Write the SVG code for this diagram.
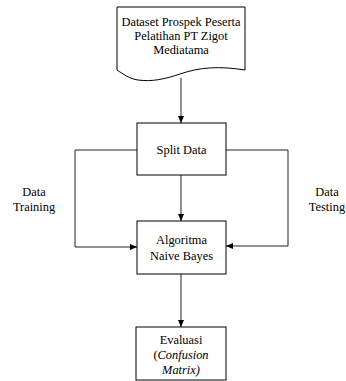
<svg xmlns="http://www.w3.org/2000/svg" width="346" height="381" viewBox="0 0 346 381">
<style>
.box{fill:#fff;stroke:#000;stroke-width:1}
.t{font-family:'Liberation Serif','Times New Roman',serif;font-size:12.4px;fill:#000;text-anchor:middle}
.c{fill:none;stroke:#222;stroke-width:1}
</style>
<defs>
<marker id="ah" markerWidth="7" markerHeight="6" refX="7" refY="3" orient="auto" markerUnits="userSpaceOnUse">
<path d="M0,0 L7,3 L0,6 Z" fill="#000"/>
</marker>
</defs>
<rect width="346" height="381" fill="#fff"/>
<g id="connectors">
<path class="c" d="M181,78 V123" marker-end="url(#ah)"/>
<path class="c" d="M181,175 V221" marker-end="url(#ah)"/>
<path class="c" d="M181,274 V327" marker-end="url(#ah)"/>
<path class="c" d="M137,150 H75 V247 H137" marker-end="url(#ah)"/>
<path class="c" d="M226,150 H288 V246 H226" marker-end="url(#ah)"/>
</g>
<g id="dataset">
<path class="box" d="M117,7 H245 V70 C220,66 200,67 180,74 C165,79 152,82 138,80 C130,79 123,74 117,70 Z"/>
<text class="t" x="181" y="26">Dataset Prospek Peserta</text>
<text class="t" x="181" y="40">Pelatihan PT Zigot</text>
<text class="t" x="181" y="54">Mediatama</text>
</g>
<g id="split">
<rect class="box" x="137" y="123" width="89" height="52"/>
<text class="t" x="181.5" y="154">Split Data</text>
</g>
<g id="naive">
<rect class="box" x="137" y="221" width="89" height="53"/>
<text class="t" x="181.5" y="244">Algoritma</text>
<text class="t" x="181.5" y="260">Naive Bayes</text>
</g>
<g id="evaluasi">
<rect class="box" x="136" y="327" width="90" height="53"/>
<text class="t" x="181" y="344">Evaluasi</text>
<text class="t" x="181" y="359">(<tspan font-style="italic">Confusion</tspan></text>
<text class="t" x="181" y="374"><tspan font-style="italic">Matrix)</tspan></text>
</g>
<g id="label-training">
<text class="t" x="34" y="196">Data</text>
<text class="t" x="34" y="211">Training</text>
</g>
<g id="label-testing">
<text class="t" x="327" y="196">Data</text>
<text class="t" x="327" y="211">Testing</text>
</g>
</svg>
